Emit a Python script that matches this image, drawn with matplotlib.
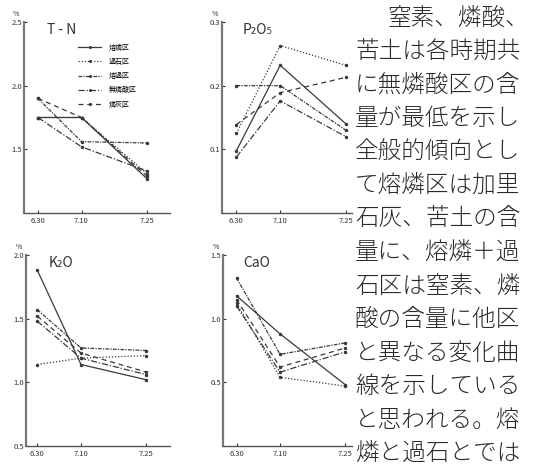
import matplotlib
matplotlib.use("Agg")
import matplotlib.pyplot as plt

plt.rcParams['font.family'] = ['Noto Sans CJK JP', 'DejaVu Sans']

# sampling dates (days after 6.30) and their labels
days = [0, 10, 25]
day_labels = ["6.30", "7.10", "7.25"]

plots = ["熔燐区", "過石区", "熔過区", "無燐酸区", "燐灰区"]

# values in % per plot, in the order of `plots`
tn = [[1.75, 1.75, 1.27],
      [1.75, 1.75, 1.31],
      [1.90, 1.56, 1.55],
      [1.75, 1.52, 1.33],
      [1.90, 1.75, 1.29]]
p2o5 = [[0.098, 0.232, 0.140],
        [0.125, 0.263, 0.232],
        [0.200, 0.200, 0.130],
        [0.088, 0.176, 0.120],
        [0.139, 0.189, 0.213]]
k2o = [[1.88, 1.14, 1.02],
       [1.14, 1.19, 1.21],
       [1.57, 1.27, 1.25],
       [1.48, 1.19, 1.06],
       [1.52, 1.23, 1.08]]
cao = [[1.18, 0.88, 0.48],
       [1.12, 0.54, 0.47],
       [1.32, 0.72, 0.81],
       [1.10, 0.58, 0.74],
       [1.15, 0.62, 0.77]]

text_lines = ["窒素、燐酸、", "苦土は各時期共", "に無燐酸区の含", "量が最低を示し",
              "全般的傾向とし", "て熔燐区は加里", "石灰、苦土の含", "量に、熔燐＋過",
              "石区は窒素、燐", "酸の含量に他区", "と異なる変化曲", "線を示している",
              "と思われる。熔", "燐と過石とでは"]

styles = ['-', (0, (1, 1.5)), (0, (3, 1, 1, 1)), (0, (5, 1.5, 1, 1.5)), (0, (4, 3))]

W, H = 533, 470
fig = plt.figure(figsize=(W / 100, H / 100), dpi=100)


def make_ax(x0, x1, ytop, ybot):
    return fig.add_axes([x0 / W, 1 - ybot / H, (x1 - x0) / W, (ybot - ytop) / H])


def draw_panel(ax, data, title, ylim, yticks, ytick_labels, xlim):
    for vals, ls in zip(data, styles):
        ax.plot(days, vals, linestyle=ls, color="#3a3a3a", lw=0.9,
                marker='.', markersize=3)
    ax.set_xlim(xlim)
    ax.set_ylim(ylim)
    ax.set_yticks(yticks)
    ax.set_yticklabels(ytick_labels)
    ax.set_xticks(days)
    ax.set_xticklabels(day_labels)
    for s in ["top", "right"]:
        ax.spines[s].set_visible(False)
    ax.spines["left"].set_color("#777777")
    ax.spines["left"].set_linewidth(1.6)
    ax.spines["bottom"].set_color("#555555")
    ax.spines["bottom"].set_linewidth(1.0)
    ax.tick_params(axis='y', direction='in', length=2, labelsize=5.5, pad=1.5, colors="#333333")
    ax.tick_params(axis='x', direction='in', length=2, labelsize=5.5, pad=3, colors="#333333")
    ax.text(0.16, 0.995, title, transform=ax.transAxes, fontsize=10, va='top', color="#333333")
    ax.text(-0.03, 1.03, "%", transform=ax.transAxes, fontsize=5, ha='right', color="#333333")


ax1 = make_ax(24, 170, 22, 213)
draw_panel(ax1, tn, "T - N", (1.0, 2.5), [1.5, 2.0, 2.5], ["1.5", "2.0", "2.5"], (-3.2, 30.3))
ax2 = make_ax(222, 352, 22, 213)
draw_panel(ax2, p2o5, "P₂O₅", (0.0, 0.3), [0.1, 0.2, 0.3], ["0.1", "0.2", "0.3"], (-3.3, 26.4))
ax3 = make_ax(26, 170, 255, 446)
draw_panel(ax3, k2o, "K₂O", (0.5, 2.0), [0.5, 1.0, 1.5, 2.0], ["0.5", "1.0", "1.5", "2.0"], (-2.6, 30.4))
ax4 = make_ax(223, 352, 255, 446)
draw_panel(ax4, cao, "CaO", (0.0, 1.5), [0.5, 1.0, 1.5], ["0.5", "1.0", "1.5"], (-3.1, 26.5))

# legend inside the T-N panel
ax1.legend([l for l in ax1.get_lines()], plots, loc='upper left',
           bbox_to_anchor=(0.33, 0.92), frameon=False, fontsize=5,
           handlelength=3.2, labelspacing=0.9, handletextpad=1.2,
           markerscale=0.8)

# body text column on the right
for i, line in enumerate(text_lines):
    x = 388 if i == 0 else 355
    fig.text(x / W, 1 - (18 + i * 33.5) / H, line, fontsize=17, weight='light',
             va='center', ha='left', color="#2a2a2a")

fig.savefig("out.png", dpi=100)
